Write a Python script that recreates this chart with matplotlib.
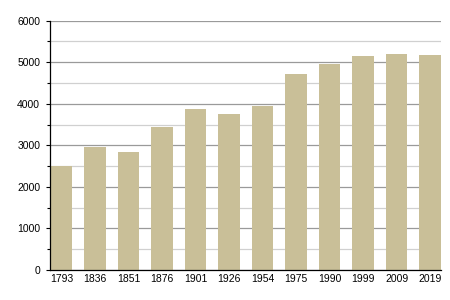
import matplotlib
matplotlib.use("Agg")
import matplotlib.pyplot as plt
from matplotlib.ticker import MultipleLocator

plt.rcParams['font.family'] = ['Liberation Sans', 'DejaVu Sans']

years = ['1793', '1836', '1851', '1876', '1901', '1926', '1954', '1975', '1990', '1999', '2009', '2019']
population = [2506, 2964, 2843, 3453, 3880, 3759, 3952, 4723, 4964, 5157, 5205, 5181]

fig = plt.figure(figsize=(4.5, 3), dpi=100)
ax = fig.add_axes([0.111, 0.1, 0.869, 0.831])

x = list(range(len(years)))
ax.bar(x, population, width=0.645, color='#C9BF98', zorder=3)

ax.set_ylim(0, 6000)
ax.set_xlim(-0.35, len(years) - 1 + 0.3225)
ax.yaxis.set_major_locator(MultipleLocator(1000))
ax.yaxis.set_minor_locator(MultipleLocator(500))

# grille : traits majeurs plus foncés, mineurs plus clairs
ax.grid(axis='y', which='major', color='#9a9a9a', linewidth=0.9, zorder=0)
ax.grid(axis='y', which='minor', color='#d0d0d0', linewidth=0.9, zorder=0)

ax.set_xticks(x)
ax.set_xticklabels(years)
ax.tick_params(axis='x', length=0, labelsize=7.5, pad=3)
ax.tick_params(axis='y', which='major', length=3, width=0.8, labelsize=7.5, pad=4)
ax.tick_params(axis='y', which='minor', length=2, width=0.8)

for side in ['top', 'right']:
    ax.spines[side].set_visible(False)
for side in ['left', 'bottom']:
    ax.spines[side].set_color('black')
    ax.spines[side].set_linewidth(0.9)
    ax.spines[side].set_zorder(4)

plt.savefig('out.png', dpi=100)
